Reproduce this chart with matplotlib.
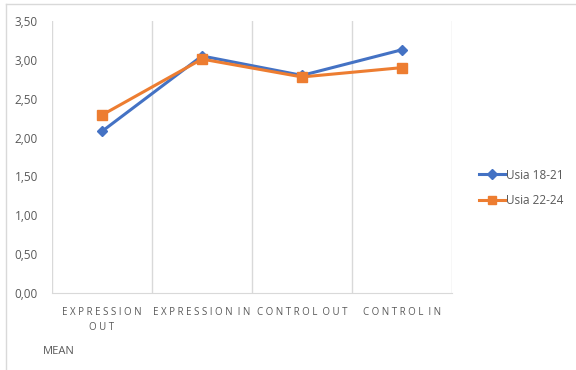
import matplotlib.pyplot as plt
from matplotlib.lines import Line2D
from matplotlib.ticker import FuncFormatter

categories = ["EXPRESSION\nOUT", "EXPRESSION IN", "CONTROL OUT", "CONTROL IN"]
usia_18_21 = [2.08, 3.05, 2.80, 3.13]
usia_22_24 = [2.29, 3.01, 2.78, 2.90]
series_names = ["Usia 18-21", "Usia 22-24"]

BLUE = "#4472C4"
ORANGE = "#ED7D31"
GREY_TXT = "#595959"
GRID = "#D9D9D9"

plt.rcParams["font.family"] = ["Open Sans", "DejaVu Sans"]


def spaced(label):
    # office-style expanded letter spacing
    return "\n".join("  ".join(" ".join(w) for w in line.split(" "))
                     for line in label.split("\n"))


fig = plt.figure(figsize=(5.76, 3.70), dpi=100)
ax = fig.add_axes([52 / 576, 1 - 293 / 370, 400 / 576, 272 / 370])

x = list(range(len(categories)))
ax.plot(x, usia_18_21, color=BLUE, lw=2.2, marker="D", ms=5.5, label=series_names[0], zorder=3)
ax.plot(x, usia_22_24, color=ORANGE, lw=2.2, marker="s", ms=7, label=series_names[1], zorder=3)

ax.set_xlim(-0.5, len(categories) - 0.5)
ax.set_ylim(0, 3.5)
ax.set_yticks([i * 0.5 for i in range(8)])
ax.yaxis.set_major_formatter(FuncFormatter(lambda v, _: f"{v:.2f}".replace(".", ",")))
ax.tick_params(axis="y", length=0, labelsize=8.5, labelcolor=GREY_TXT, pad=10)

ax.set_xticks(x)
ax.set_xticklabels([spaced(c) for c in categories], fontsize=7, color=GREY_TXT, linespacing=1.5)
ax.tick_params(axis="x", length=0, pad=10)

# vertical separators between categories
for b in [i - 0.5 for i in range(len(categories) + 1)]:
    ax.axvline(b, color=GRID, lw=1, zorder=1)
for side in ["top", "right", "left"]:
    ax.spines[side].set_visible(False)
ax.spines["bottom"].set_color(GRID)

handles = [Line2D([], [], color=BLUE, lw=2.2, marker="D", ms=5),
           Line2D([], [], color=ORANGE, lw=2.2, marker="s", ms=6)]
fig.legend(handles, series_names, loc="center left", bbox_to_anchor=(468 / 576, 1 - 188 / 370),
           frameon=False, fontsize=8.5, labelcolor=GREY_TXT, handlelength=2.2,
           handletextpad=0.1, labelspacing=1.1)

fig.text(43 / 576, 1 - 352 / 370, "MEAN", fontsize=8, color=GREY_TXT, va="center")

# chart frame
fig.add_artist(Line2D([6 / 576, 6 / 576], [0, 1 - 4 / 370], color=GRID, lw=1, transform=fig.transFigure))
fig.add_artist(Line2D([6 / 576, 1], [1 - 4 / 370, 1 - 4 / 370], color=GRID, lw=1, transform=fig.transFigure))

fig.savefig("out.png", dpi=100)
